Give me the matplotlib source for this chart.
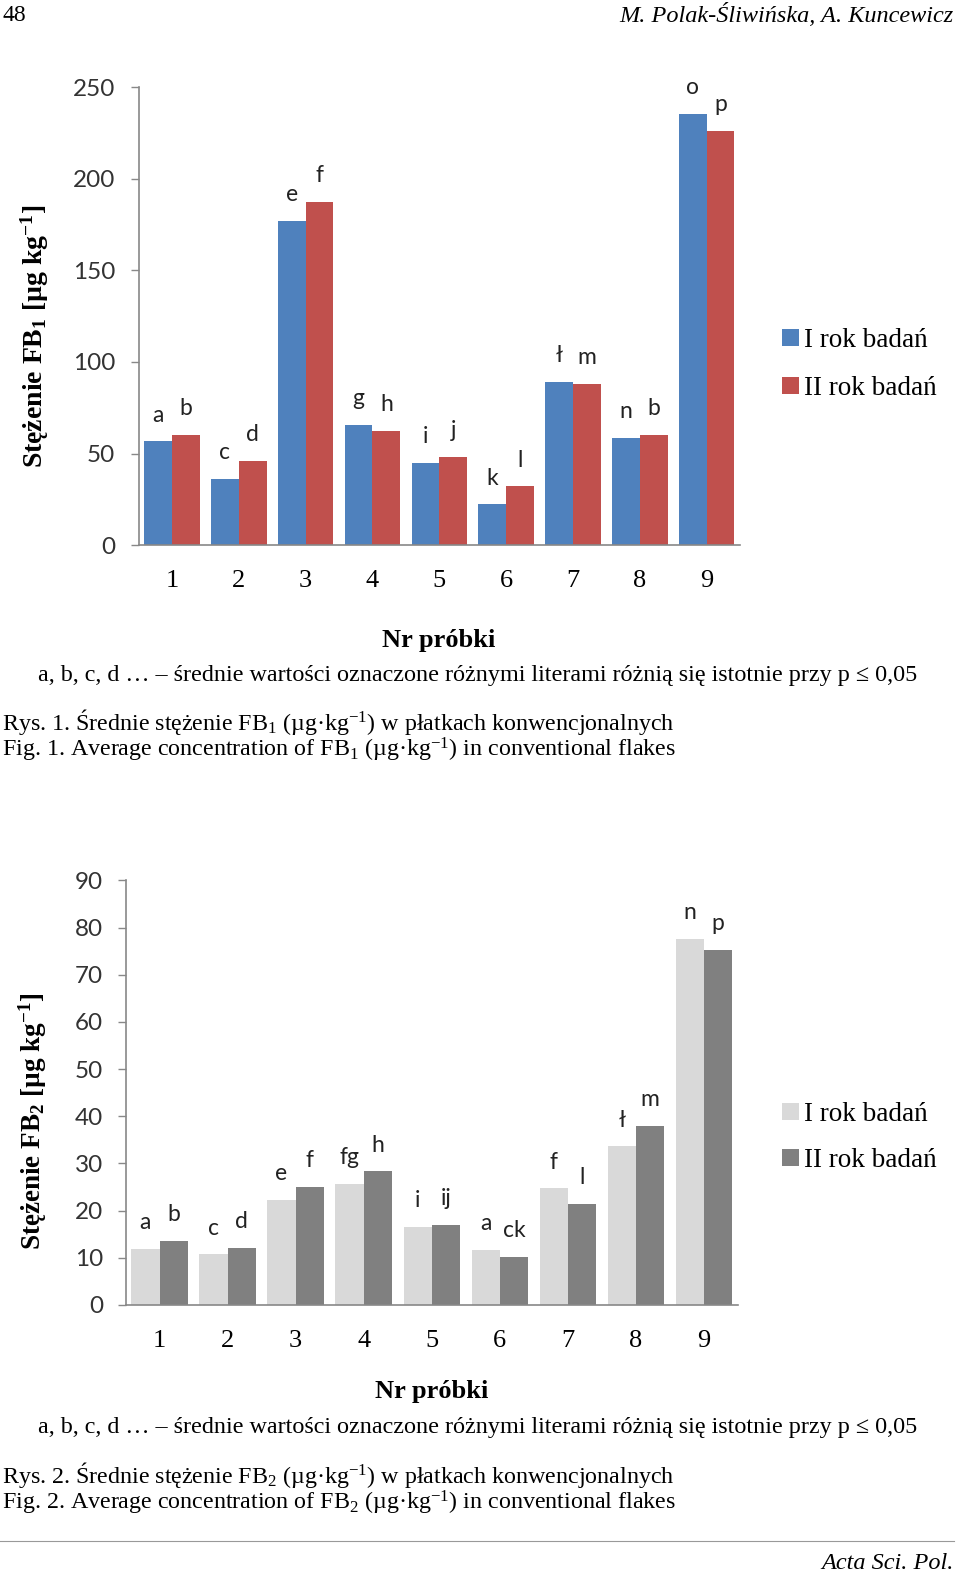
import numpy as np
import matplotlib
matplotlib.use('Agg')
import matplotlib.pyplot as plt

plt.rcParams['mathtext.fontset'] = 'custom'
plt.rcParams['mathtext.rm'] = 'Liberation Serif'
plt.rcParams['mathtext.it'] = 'Liberation Serif:italic'
plt.rcParams['mathtext.bf'] = 'Liberation Serif:bold'

# data
samples = ['1', '2', '3', '4', '5', '6', '7', '8', '9']
fb1_year1 = [56.6, 36.1, 177.0, 65.8, 44.7, 22.2, 88.9, 58.6, 235.3]
fb1_year2 = [60.2, 46.1, 187.6, 62.2, 48.1, 32.0, 88.2, 60.2, 226.3]
fb1_let1 = ['a', 'c', 'e', 'g', 'i', 'k', 'ł', 'n', 'o']
fb1_let2 = ['b', 'd', 'f', 'h', 'j', 'l', 'm', 'b', 'p']

fb2_year1 = [11.9, 10.7, 22.2, 25.6, 16.5, 11.6, 24.7, 33.6, 77.5]
fb2_year2 = [13.5, 12.1, 25.0, 28.3, 17.0, 10.2, 21.5, 38.0, 75.3]
fb2_let1 = ['a', 'c', 'e', 'fg', 'i', 'a', 'f', 'ł', 'n']
fb2_let2 = ['b', 'd', 'f', 'h', 'ij', 'ck', 'l', 'm', 'p']

series_names = ['I rok badań', 'II rok badań']

W, H = 960, 1574
SX, SY = 960 / 956, 1574 / 1568
fig = plt.figure(figsize=(W / 100, H / 100), dpi=100)

def fx(px):
    return px * SX / W

def fy(py):
    return 1 - py * SY / H

def box(x0, y0, x1, y1):
    return [fx(x0), fy(y1), fx(x1) - fx(x0), fy(y0) - fy(y1)]

serif = 'Liberation Serif'
sans = 'Lato'
axcol = '#888888'

def draw(ax, v1, v2, l1, l2, c1, c2, ymax, step, legy, ypad, lspace):
    x = np.arange(len(samples))
    w = 0.415
    ax.bar(x - w / 2, v1, w, color=c1, label=series_names[0])
    ax.bar(x + w / 2, v2, w, color=c2, label=series_names[1])
    for i in range(len(samples)):
        ax.annotate(l1[i], (x[i] - w / 2, v1[i]), xytext=(0, 19), textcoords='offset points',
                    ha='center', va='center', fontsize=16.5, family=sans, color='#222222')
        ax.annotate(l2[i], (x[i] + w / 2, v2[i]), xytext=(0, 19), textcoords='offset points',
                    ha='center', va='center', fontsize=16.5, family=sans, color='#222222')
    ax.set_xlim(-0.5, len(samples) - 0.5)
    ax.set_ylim(0, ymax)
    ax.set_yticks(np.arange(0, ymax + 1, step))
    ax.set_xticks(x)
    ax.set_xticklabels(samples, family=serif, fontsize=19)
    for t in ax.get_yticklabels():
        t.set_family(sans)
        t.set_fontsize(17.5)
        t.set_color('#333333')
    ax.tick_params(axis='x', length=0, pad=18)
    ax.tick_params(axis='y', length=6, width=1, color=axcol, pad=ypad)
    for s in ['top', 'right']:
        ax.spines[s].set_visible(False)
    for s in ['left', 'bottom']:
        ax.spines[s].set_color(axcol)
        ax.spines[s].set_linewidth(1.2)
    ax.legend(loc='center left', bbox_to_anchor=(fx(779), fy(legy)), bbox_transform=fig.transFigure,
              frameon=False, prop={'family': serif, 'size': 19.5}, handlelength=0.6, handleheight=0.6,
              handletextpad=0.2, labelspacing=lspace, borderaxespad=0, borderpad=0)

ax1 = fig.add_axes(box(138, 87, 737, 543))
draw(ax1, fb1_year1, fb1_year2, fb1_let1, fb1_let2, '#4F81BD', '#C0504D', 250, 50, 363, 11, 0.85)
fig.text(fx(35), fy(335), r'Stężenie FB$_\mathbf{1}$ [µg kg$^\mathbf{-1}$]', rotation=90, ha='center', va='center',
         family=serif, fontweight='bold', fontsize=20)

ax2 = fig.add_axes(box(125, 877, 735, 1300))
draw(ax2, fb2_year1, fb2_year2, fb2_let1, fb2_let2, '#D9D9D9', '#808080', 90, 10, 1133, 10, 0.78)
fig.text(fx(33), fy(1117), r'Stężenie FB$_\mathbf{2}$ [µg kg$^\mathbf{-1}$]', rotation=90, ha='center', va='center',
         family=serif, fontweight='bold', fontsize=19.5)

# header
fig.text(fx(2), fy(15), '48', ha='left', va='center', family=serif, fontsize=17)
fig.text(fx(950), fy(15), 'M. Polak-Śliwińska, A. Kuncewicz', ha='right', va='center',
         family=serif, style='italic', fontsize=17.5)

note = 'a, b, c, d … – średnie wartości oznaczone różnymi literami różnią się istotnie przy p ≤ 0,05'

# captions for figure 1
fig.text(fx(437), fy(638), 'Nr próbki', ha='center', va='center', family=serif, fontweight='bold', fontsize=19)
fig.text(fx(476), fy(673), note, ha='center', va='center', family=serif, fontsize=17.4)
fig.text(fx(2), fy(719), 'Rys. 1. Średnie stężenie FB$_1$ (µg·kg$^{-1}$) w płatkach konwencjonalnych',
         ha='left', va='center', family=serif, fontsize=17.3)
fig.text(fx(2), fy(747), 'Fig. 1. Average concentration of FB$_1$ (µg·kg$^{-1}$) in conventional flakes',
         ha='left', va='center', family=serif, fontsize=17.3)

# captions for figure 2
fig.text(fx(430), fy(1386), 'Nr próbki', ha='center', va='center', family=serif, fontweight='bold', fontsize=19)
fig.text(fx(476), fy(1422), note, ha='center', va='center', family=serif, fontsize=17.4)
fig.text(fx(2), fy(1469), 'Rys. 2. Średnie stężenie FB$_2$ (µg·kg$^{-1}$) w płatkach konwencjonalnych',
         ha='left', va='center', family=serif, fontsize=17.3)
fig.text(fx(2), fy(1497), 'Fig. 2. Average concentration of FB$_2$ (µg·kg$^{-1}$) in conventional flakes',
         ha='left', va='center', family=serif, fontsize=17.3)

# footer
fig.add_artist(plt.Line2D([0, fx(950)], [fy(1535), fy(1535)], color='#999999', lw=0.8))
fig.text(fx(950), fy(1558), 'Acta Sci. Pol.', ha='right', va='center', family=serif, style='italic', fontsize=17.5)

fig.savefig('out.png', dpi=100)
